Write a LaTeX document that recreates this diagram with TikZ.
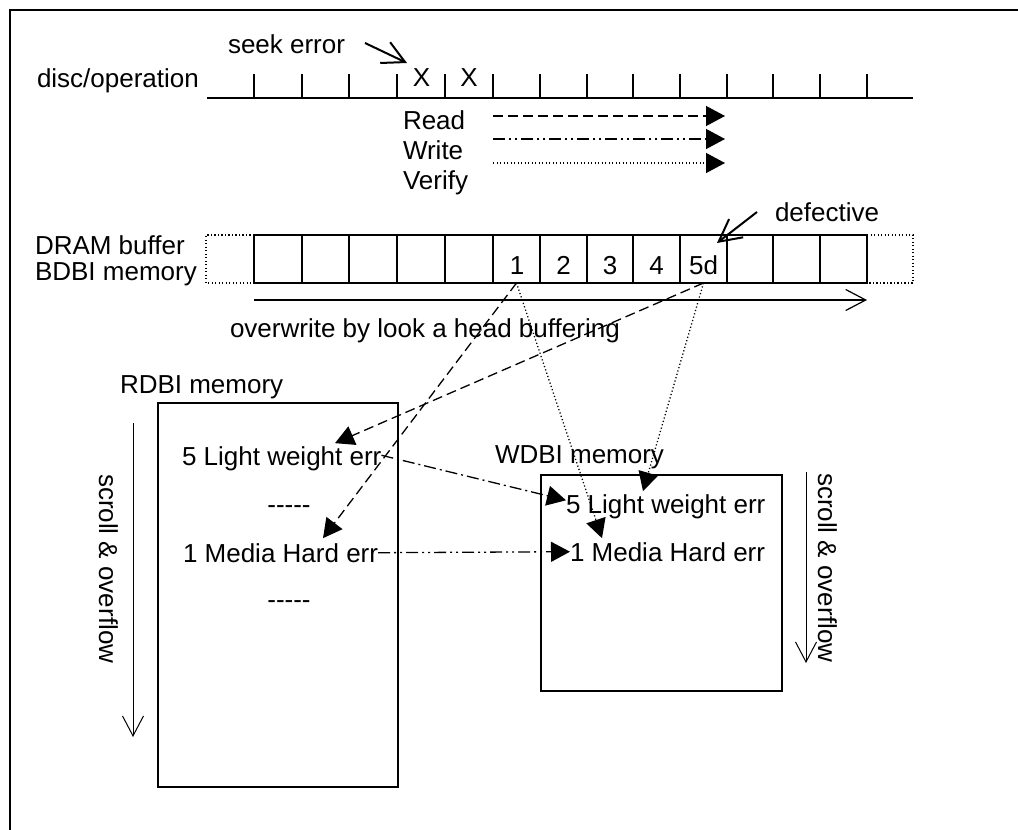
\documentclass[tikz,border=0pt]{standalone}
\usepackage{fontspec}
\setmainfont{Liberation Sans}
\usetikzlibrary{arrows.meta,calc}
\begin{document}
\begin{tikzpicture}[x=1bp,y=-1bp,
  lbl/.style={inner sep=0pt, outer sep=0pt, anchor=base west, font=\fontsize{26bp}{30bp}\selectfont},
  lblc/.style={lbl, anchor=base},
  fillhead/.style={-{Triangle[length=19bp,width=20bp]}},
  openhead/.style={-{Straight Barb[length=22bp,width=23bp]}},
  thinhead/.style={-{Straight Barb[length=20bp,width=21bp]}},
  conn/.style={line width=1.3bp},
  dashedline/.style={dash pattern=on 10bp off 5bp},
  dashdot/.style={dash pattern=on 12bp off 4bp on 2bp off 4bp},
  dashdotdot/.style={dash pattern=on 12bp off 4bp on 2bp off 4bp on 2bp off 4bp},
  dottedline/.style={dash pattern=on 1.2bp off 2.3bp},
  cellbox/.style={draw, line width=1.6bp, minimum height=48bp, inner sep=0pt, outer sep=0pt},
  membox/.style={draw, line width=2.5bp, inner sep=0pt, outer sep=0pt}
]
\useasboundingbox (0,0) rectangle (1018,830);
% outer frame
\draw[line width=2.5bp] (1040,10) -- (10,10) -- (10,850);

% disc / operation line
\node[lbl] (disc) at (37,87) {disc/operation};
\draw[line width=2bp] (207,97.5) -- (913,97.5);
\foreach \x in {254,302,349,397,445,493,540,587,633,680,727,773,820,867}
  \draw[line width=2bp] (\x,74) -- (\x,97.5);
\node[lblc] (x1) at (421.5,86.5) {X};
\node[lblc] (x2) at (469,86.5) {X};
\node[lbl] (seek) at (228,53) {seek error};
\coordinate (seekS) at (365,43);
\coordinate (seekT) at (407,63);
\draw[line width=2bp, openhead] (seekS) -- (seekT);

% operations
\node[lbl] (read) at (403,129) {Read};
\node[lbl] (write) at (403,159) {Write};
\node[lbl] (verify) at (403,189) {Verify};
\coordinate (rdS) at (493,116);  \coordinate (rdT) at (725,116);
\coordinate (wrS) at (493,139);  \coordinate (wrT) at (725,139);
\coordinate (vfS) at (493,163);  \coordinate (vfT) at (725,163);
\draw[conn, dashedline, fillhead] (rdS) -- (rdT);
\draw[conn, dashdotdot, fillhead] (wrS) -- (wrT);
\draw[conn, dottedline, fillhead] (vfS) -- (vfT);

% DRAM buffer
\node[lbl] (dram) at (35,254) {DRAM buffer};
\node[lbl] (bdbi) at (35,280) {BDBI memory};
\draw[line width=1.5bp, dottedline] (254,235) -- (206,235) -- (206,283) -- (254,283);
\draw[line width=1.5bp, dottedline] (867,235) -- (913,235) -- (913,283) -- (867,283);
\foreach \a/\b [count=\i] in {254/302,302/349,349/397,397/445,445/493,493/540,540/587,587/633,633/680,680/727,727/773,773/820,820/867}
  \node[cellbox, minimum width={(\b-\a)*1bp}] (c\i) at ({(\a+\b)/2},259) {};
\node[lblc] (n1) at (517,274) {1};
\node[lblc] (n2) at (563.5,274) {2};
\node[lblc] (n3) at (610,274) {3};
\node[lblc] (n4) at (656.5,274) {4};
\node[lblc] (n5) at (703.5,274) {5d};
\node[lbl] (def) at (775,221) {defective};
\coordinate (defS) at (757,212);
\coordinate (defT) at (717,243);
\draw[line width=2bp, openhead] (defS) -- (defT);

% overwrite
\coordinate (owS) at (254,300); \coordinate (owT) at (867,300);
\draw[line width=1.2bp, thinhead] (owS) -- (owT);
\node[lbl] (ow) at (230,337) {overwrite by look a head buffering};

% RDBI memory
\node[lbl] (rlab) at (120,393) {RDBI memory};
\node[membox, minimum width=240bp, minimum height=384bp] (rbox) at (278,595) {};
\node[lbl] (r5) at (182,465) {5 Light weight err};
\node[lblc] (rd1) at (289,513) {-{}-{}-{}-{}-};
\node[lbl] (r1) at (183,562) {1 Media Hard err};
\node[lblc] (rd2) at (289,608) {-{}-{}-{}-{}-};
\coordinate (slS) at (133,423); \coordinate (slT) at (133,737);
\draw[line width=1bp, thinhead] (slS) -- (slT);
\node[lbl, rotate=-90] (sl) at (99,474) {scroll \& overflow};

% WDBI memory
\node[lbl] (wlab) at (495,463) {WDBI memory};
\node[membox, minimum width=241bp, minimum height=216bp] (wbox) at (661.5,583) {};
\node[lbl] (w5) at (566,513) {5 Light weight err};
\node[lbl] (w1) at (570,561) {1 Media Hard err};
\coordinate (srS) at (806,472); \coordinate (srT) at (806,663);
\draw[line width=1bp, thinhead] (srS) -- (srT);
\node[lbl, rotate=-90] (sr) at (818,473) {scroll \& overflow};

% connectors
\draw[conn, dashedline, fillhead] (c6.south) -- ([xshift=140bp,yshift=5bp]r1.north west);
\draw[conn, dashedline, fillhead] (c10.south) -- ([xshift=153bp,yshift=3bp]r5.north west);
\draw[conn, dottedline, fillhead] (c6.south) -- ([xshift=32bp,yshift=4bp]w1.north west);
\draw[conn, dottedline, fillhead] (c10.south) -- ([xshift=77bp,yshift=3bp]w5.north west);
\draw[conn, dashdot, fillhead] ([yshift=3bp]r5.east) -- ([yshift=6bp]w5.west);
\draw[conn, dashdotdot, fillhead] (r1.east) -- (w1.west);
\end{tikzpicture}
\end{document}
